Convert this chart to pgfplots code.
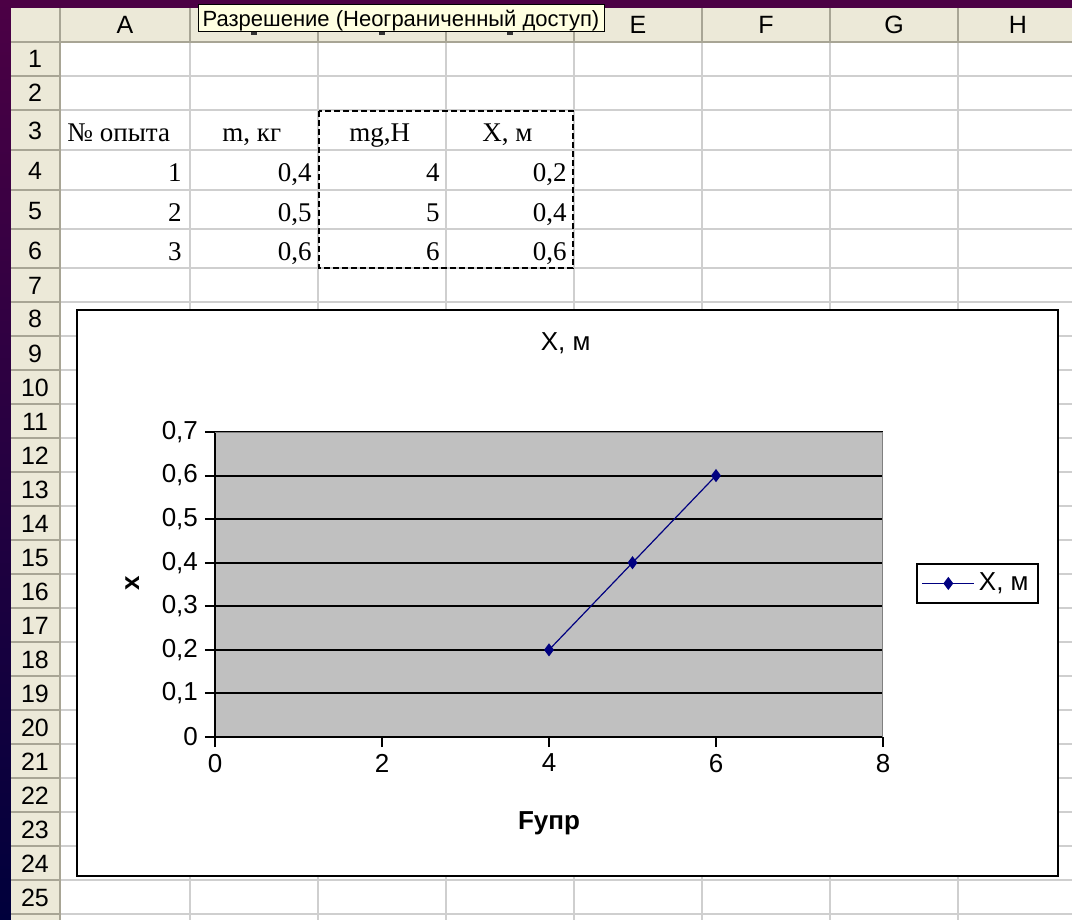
\documentclass[border=0pt]{standalone}
\usepackage{pgfplots}
\pgfplotsset{compat=1.18}
\usepackage{fontspec}
\setmainfont{Liberation Sans}
\newfontfamily\serif{Liberation Serif}
\definecolor{hdr}{HTML}{ECE9D8}
\definecolor{hdrline}{HTML}{A8A595}
\definecolor{gridc}{HTML}{CFCFCF}
\definecolor{navyc}{HTML}{000080}
\definecolor{plotgray}{HTML}{C0C0C0}
\definecolor{purp}{HTML}{4C0045}
\definecolor{navyb}{HTML}{00003C}
\definecolor{tip}{HTML}{FFFFE1}
\begin{document}
\begin{tikzpicture}
\begin{scope}[x=0.5pt,y=-0.5pt]
\useasboundingbox (0,0) rectangle (1072,920);
\fill[purp] (0,0) rectangle (1072,920);
\shade[top color=purp, bottom color=navyb] (0,0) rectangle (11,920);
\fill[white] (11,8) rectangle (1072,920);
\fill[hdr] (11,8) rectangle (1072,42);
\fill[hdr] (11,42) rectangle (60,920);
% cell grid
\foreach \x in {190,318,446,574,702,830,958}
  \draw[gridc, line width=0.8pt] (\x,42) -- (\x,920);
\foreach \y in {76,110,150,190,229,268,302,336,...,914}
  \draw[gridc, line width=0.8pt] (60,\y) -- (1072,\y);
% header lines
\foreach \x in {190,318,446,574,702,830,958}
  \draw[hdrline, line width=0.8pt] (\x,8) -- (\x,42);
\foreach \y in {76,110,150,190,229,268,302,336,...,914}
  \draw[hdrline, line width=0.8pt] (11,\y) -- (60,\y);
\draw[hdrline, line width=0.8pt] (11,42) -- (1072,42);
\draw[hdrline, line width=0.8pt] (60,8) -- (60,920);
% header labels (B, C, D hidden under the tooltip)
\begin{scope}[every node/.style={font=\fontsize{12.5}{14}\selectfont, inner sep=0pt, anchor=base}]
\foreach \c/\x in {A/125,E/638,F/766,G/894,H/1018}
  \node at (\x,34) {\c};
\foreach \r/\y in {1/68,2/102,3/140,4/180,5/220,6/259,7/294}
  \node at (35,\y) {\r};
\foreach \r in {8,...,25}
  \node at (35,{268+34*(\r-7)+26}) {\r};
\end{scope}
\foreach \x in {254,382,510}
  \fill[black!80] (\x-3,32) rectangle (\x+3,35);
% cell contents
\begin{scope}[every node/.style={font=\serif\fontsize{13.5}{15}\selectfont, inner sep=0pt}]
\node[anchor=base west] at (67,142) {№ опыта};
\node[anchor=base west] at (222,142) {m, кг};
\node[anchor=base west] at (349,142) {mg,H};
\node[anchor=base west] at (482,142) {X, м};
\foreach \a/\b/\c/\d/\y in {1/{0,4}/4/{0,2}/182, 2/{0,5}/5/{0,4}/221, 3/{0,6}/6/{0,6}/260}{
  \node[anchor=base east] at (182,\y) {\a};
  \node[anchor=base east] at (312,\y) {\b};
  \node[anchor=base east] at (440,\y) {\c};
  \node[anchor=base east] at (567,\y) {\d};
}
\end{scope}
\draw[black, line width=1.2pt, dash pattern=on 3pt off 1.5pt] (319,111) rectangle (573,268);
% tooltip
\draw[fill=tip, draw=black, line width=0.5pt] (198,5) rectangle (604,32);
\node[font=\fontsize{11}{13}\selectfont, inner sep=0pt, anchor=base] at (401,27) {Разрешение (Неограниченный доступ)};
% chart frame
\draw[fill=white, draw=black, line width=1pt] (77,310) rectangle (1058,876);
\end{scope}
\begin{axis}[
  at={(107.5pt,-368.5pt)}, anchor=south west,
  scale only axis, width=334pt, height=152.5pt,
  xmin=0, xmax=8, ymin=0, ymax=0.7,
  xtick={0,2,4,6,8}, ytick={0,0.1,0.2,0.3,0.4,0.5,0.6,0.7},
  axis lines*=left,
  axis line style={black, line width=1pt, -},
  tick align=outside, major tick length=5pt,
  tick style={black, line width=1pt},
  ymajorgrids, major grid style={black, line width=1pt},
  axis background/.style={fill=plotgray},
  /pgf/number format/.cd, use comma, fixed, precision=1, assume math mode=true, /pgfplots/.cd,
  ticklabel style={font=\fontsize{13}{15}\selectfont},
  title={X, м},
  title style={at={(axis description cs:0.525,1)}, anchor=center, yshift=38.5pt, font=\fontsize{13}{15}\selectfont},
  xlabel={Fупр},
  xlabel style={at={(axis description cs:0.5,0)}, anchor=center, yshift=-43pt, font=\bfseries\fontsize{13}{15}\selectfont},
  ylabel={x},
  ylabel style={at={(axis description cs:-0.124,0.505)}, anchor=center, font=\bfseries\fontsize{13}{15}\selectfont},
  legend style={at={(axis description cs:1.049,0.5705)}, anchor=north west, draw=black, line width=1pt, fill=white, font=\fontsize{13}{15}\selectfont, inner sep=2.5pt},
  legend image code/.code={\draw[#1, mark repeat=2, mark phase=2] plot coordinates {(0pt,0pt)(13pt,0pt)(26pt,0pt)};},
]
\addplot[navyc, line width=0.6pt, mark=diamond*, mark size=2.8pt, mark options={fill=navyc, draw=navyc}]
  coordinates {(4,0.2) (5,0.4) (6,0.6)};
\addlegendentry{X, м}
\draw[color=black!50, line width=1pt] (rel axis cs:0,1) -- (rel axis cs:1,1) -- (rel axis cs:1,0);
\end{axis}
\end{tikzpicture}
\end{document}
